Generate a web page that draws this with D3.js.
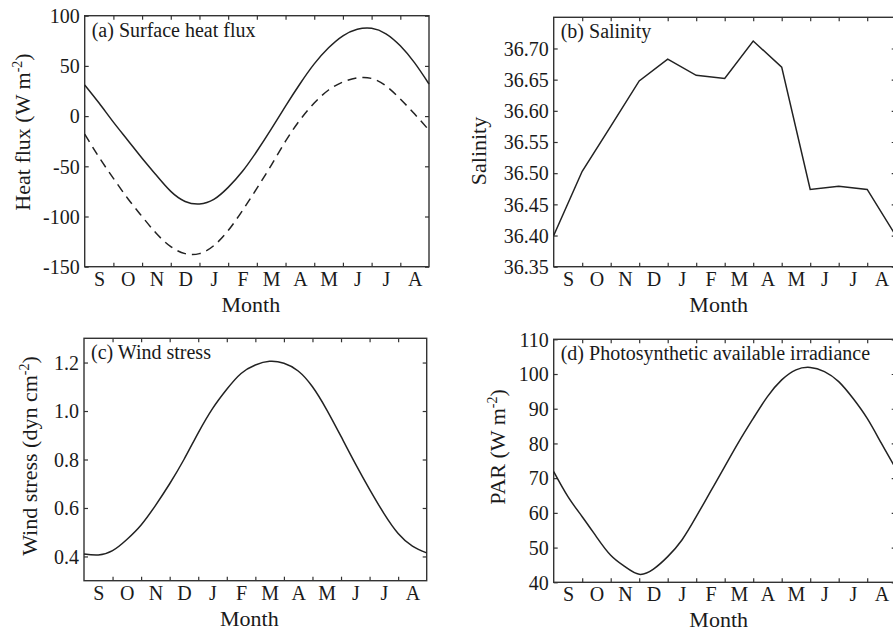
<!DOCTYPE html>
<html>
<head>
<meta charset="utf-8">
<script src="https://cdn.jsdelivr.net/npm/d3@7"></script>
<style>
  body { margin: 0; background: #fff; }
  svg text { font-family: "Liberation Serif", "Times New Roman", serif; fill: #1a1a1a; }
</style>
</head>
<body>
<div id="chart"></div>
<script>
// month labels, centred in each month slot
const months = ["S", "O", "N", "D", "J", "F", "M", "A", "M", "J", "J", "A"];
const monthCentres = [0.5, 1.5, 2.5, 3.5, 4.5, 5.5, 6.5, 7.5, 8.5, 9.5, 10.5, 11.5];
const monthEdges = [1, 2, 3, 4, 5, 6, 7, 8, 9, 10, 11];

// sample times (months since start of Sep)
const tHalf = [0, 0.5, 1, 1.5, 2, 2.5, 3, 3.5, 4, 4.5, 5, 5.5, 6, 6.5, 7, 7.5, 8, 8.5, 9, 9.5, 10, 10.5, 11, 11.5, 12];
const tMonth = [0, 1, 2, 3, 4, 5, 6, 7, 8, 9, 10, 11, 12];

// (a) surface heat flux, W m-2
const heatFluxSolid = [31, 13, -6, -24, -42, -59, -75, -85, -87.5, -83, -71, -55, -35, -13, 10, 32, 52, 68, 80, 86.5, 87.5, 82, 70, 53, 32];
const heatFluxDashed = [-18, -41, -62, -82, -100, -117, -130, -137, -137, -129, -114, -94, -72, -49, -25, -4, 13, 26, 34, 38, 37.5, 30, 17, 2, -14];

// (b) salinity, monthly
const salinity = [36.400, 36.503, 36.575, 36.648, 36.683, 36.657, 36.652, 36.712, 36.670, 36.474, 36.479, 36.474, 36.400];

// (c) wind stress, dyn cm-2
const windStress = [0.41, 0.406, 0.424, 0.47, 0.53, 0.61, 0.70, 0.80, 0.91, 1.01, 1.09, 1.155, 1.19, 1.205, 1.197, 1.165, 1.10, 1.005, 0.895, 0.783, 0.677, 0.578, 0.495, 0.443, 0.415];

// (d) PAR, W m-2
const par = [71.9, 64.7, 58.9, 53.1, 47.8, 44.5, 42.3, 43.8, 47.4, 52.2, 58.9, 66.1, 73.3, 80.5, 87.2, 93.5, 98.3, 101.2, 101.9, 100.7, 97.8, 93.0, 87.2, 80.0, 72.8];

const svg = d3.select("#chart").append("svg")
    .attr("width", 893)
    .attr("height", 631);

const serif = "'Liberation Serif', 'Times New Roman', serif";
// plain hyphen for negatives, like the original figure
const intFmt = d => String(d);

function drawPanel(p) {
    const x = d3.scaleLinear().domain([0, 12]).range([p.x0, p.x1]);
    const y = d3.scaleLinear().domain(p.yDomain).range([p.y1, p.y0]);
    const g = svg.append("g");

    // inward ticks on all four sides
    g.append("g")
        .attr("transform", "translate(0," + p.y1 + ")")
        .call(d3.axisBottom(x).tickValues(monthEdges).tickSize(-4).tickFormat(""));
    g.append("g")
        .attr("transform", "translate(0," + p.y0 + ")")
        .call(d3.axisTop(x).tickValues(monthEdges).tickSize(-4).tickFormat(""));
    g.append("g")
        .attr("transform", "translate(" + p.x0 + ",0)")
        .call(d3.axisLeft(y).tickValues(p.yTicks).tickSizeInner(-4).tickSizeOuter(0)
            .tickPadding(5).tickFormat(p.fmt))
        .selectAll("text").attr("font-size", 20).attr("dy", "0.34em");
    g.append("g")
        .attr("transform", "translate(" + p.x1 + ",0)")
        .call(d3.axisRight(y).tickValues(p.yTicks).tickSize(-4).tickFormat(""));

    // month letters
    g.append("g")
        .attr("transform", "translate(0," + p.y1 + ")")
        .call(d3.axisBottom(x).tickValues(monthCentres).tickSize(0).tickPadding(5)
            .tickFormat((d, i) => months[i]))
        .selectAll("text").attr("font-size", 20);

    g.selectAll(".domain").remove();
    g.selectAll(".tick line").attr("stroke", "#333").attr("stroke-width", 1.2);
    g.selectAll(".tick text").attr("fill", "#1a1a1a").style("font-family", serif);

    // frame
    g.append("rect")
        .attr("x", p.x0).attr("y", p.y0)
        .attr("width", p.x1 - p.x0).attr("height", p.y1 - p.y0)
        .attr("fill", "none").attr("stroke", "#333").attr("stroke-width", 1.4);

    // series
    p.series.forEach(s => {
        const line = d3.line()
            .x((d, i) => x(s.t[i]))
            .y(d => y(d))
            .curve(s.curve);
        g.append("path")
            .datum(s.values)
            .attr("d", line)
            .attr("fill", "none")
            .attr("stroke", "#222")
            .attr("stroke-width", 1.5)
            .attr("stroke-dasharray", s.dash || null);
    });

    // panel title
    g.append("text")
        .attr("x", p.x0 + 7).attr("y", p.y0 + 21)
        .attr("font-size", 20)
        .style("font-family", serif)
        .text(p.title);

    // x label
    g.append("text")
        .attr("x", (p.x0 + p.x1) / 2 - 6).attr("y", p.y1 + 45)
        .attr("text-anchor", "middle")
        .attr("font-size", 22)
        .style("font-family", serif)
        .text("Month");

    // y label, rotated, with optional superscript
    const yl = g.append("text")
        .attr("transform", "translate(" + p.ylx + "," + p.yly + ") rotate(-90)")
        .attr("text-anchor", "middle")
        .attr("font-size", 22)
        .style("font-family", serif);
    yl.append("tspan").text(p.ylabel[0]);
    if (p.ylabel.length > 1) {
        yl.append("tspan").attr("font-size", 14).attr("dy", -8).text(p.ylabel[1]);
        yl.append("tspan").attr("dy", 8).text(p.ylabel[2]);
    }
}

drawPanel({
    x0: 84.7, x1: 429, y0: 15.7, y1: 266.7,
    yDomain: [-150, 100], yTicks: [-150, -100, -50, 0, 50, 100], fmt: intFmt,
    title: "(a) Surface heat flux",
    ylabel: ["Heat flux (W m", "-2", ")"], ylx: 30, yly: 132,
    series: [
        { t: tHalf, values: heatFluxSolid, curve: d3.curveNatural },
        { t: tHalf, values: heatFluxDashed, curve: d3.curveNatural, dash: "9,6" }
    ]
});

drawPanel({
    x0: 553.7, x1: 895.7, y0: 17.3, y1: 266.7,
    yDomain: [36.35, 36.75], yTicks: [36.35, 36.40, 36.45, 36.50, 36.55, 36.60, 36.65, 36.70], fmt: d3.format(".2f"),
    title: "(b) Salinity",
    ylabel: ["Salinity"], ylx: 486, yly: 151,
    series: [
        { t: tMonth, values: salinity, curve: d3.curveLinear }
    ]
});

drawPanel({
    x0: 84, x1: 426.7, y0: 338.3, y1: 580.7,
    yDomain: [0.3, 1.3], yTicks: [0.4, 0.6, 0.8, 1.0, 1.2], fmt: d3.format(".1f"),
    title: "(c) Wind stress",
    ylabel: ["Wind stress (dyn cm", "-2", ")"], ylx: 37, yly: 456,
    series: [
        { t: tHalf, values: windStress, curve: d3.curveNatural }
    ]
});

drawPanel({
    x0: 553.7, x1: 895.7, y0: 339.3, y1: 582.3,
    yDomain: [40, 110], yTicks: [40, 50, 60, 70, 80, 90, 100, 110], fmt: intFmt,
    title: "(d) Photosynthetic available irradiance",
    ylabel: ["PAR (W m", "-2", ")"], ylx: 505, yly: 447,
    series: [
        { t: tHalf, values: par, curve: d3.curveNatural }
    ]
});
</script>
</body>
</html>
